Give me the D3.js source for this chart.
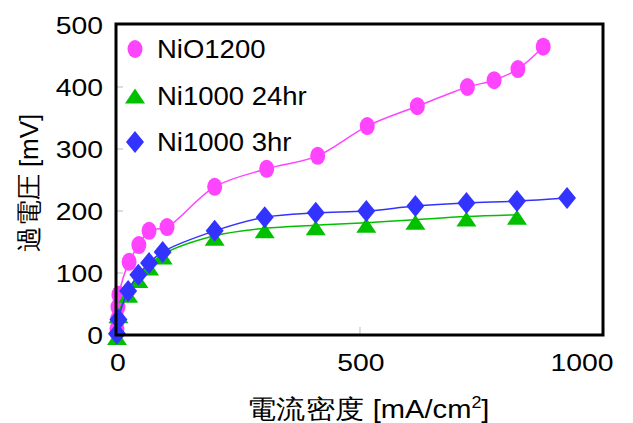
<!DOCTYPE html>
<html><head><meta charset="utf-8">
<script src="https://cdn.jsdelivr.net/npm/d3@7"></script>
<style>body{margin:0;background:#fff}text{font-family:"Liberation Sans",Arial,sans-serif}</style>
</head><body><svg id="c" width="633" height="423"></svg>
<script>
const seriesNames = ["NiO1200", "Ni1000 24hr", "Ni1000 3hr"];
const nioX = [0, 1, 2, 4, 25, 45, 66, 103, 201, 308, 413, 515, 618, 721, 776, 825, 877];
const nioY = [10, 25, 45, 65, 118, 145, 168, 174, 239, 268, 289, 337, 369, 400, 411, 429, 465];
const ni24X = [0, 3, 23, 44, 66, 94, 201, 304, 409, 513, 614, 719, 823];
const ni24Y = [0, 35, 68, 92, 112, 130, 160, 172, 177, 181, 186, 191, 194];
const ni3X = [0, 3, 23, 44, 66, 94, 201, 304, 409, 513, 614, 719, 823, 926];
const ni3Y = [2, 25, 71, 97, 116, 134, 168, 190, 197, 200, 208, 213, 216, 221];
const xTicks = [0, 500, 1000];
const yTicks = [0, 100, 200, 300, 400, 500];
const colors = ["#ff44ff", "#00c000", "#3333ff"];

const svg = d3.select("#c");
const x = d3.scaleLinear().domain([-2, 1000]).range([116, 603]);
const y = d3.scaleLinear().domain([0, 500]).range([335, 25]);

function stretchText(g, tx, ty, sx, size, anchor, str) {
  return g.append("text").attr("transform", `translate(${tx},${ty}) scale(${sx},1)`)
    .attr("text-anchor", anchor).attr("font-size", size).text(str);
}

// inner ticks
svg.append("g").selectAll("line").data(yTicks.slice(1,-1)).join("line")
  .attr("x1", x(-2)).attr("x2", x(-2)+7).attr("y1", d=>y(d)).attr("y2", d=>y(d))
  .attr("stroke", "#bbb").attr("stroke-width", 1);
svg.append("g").selectAll("line").data(xTicks.slice(1,-1)).join("line")
  .attr("x1", d=>x(d)).attr("x2", d=>x(d)).attr("y1", y(0)).attr("y2", y(0)-8)
  .attr("stroke", "#bbb").attr("stroke-width", 1);

// tick labels
const yl = svg.append("g");
yTicks.forEach(d => stretchText(yl, 103, y(d)+9, 1.18, 24, "end", d));
const xl = svg.append("g");
xTicks.forEach(d => stretchText(xl, x(d) + (d===1000 ? -21 : 1), 371, 1.18, 24, "middle", d));

// axis titles
const xt = svg.append("text").attr("transform","translate(368,418) scale(1.12,1)")
  .attr("text-anchor","middle").attr("font-size", 26);
xt.append("tspan").text("電流密度 [mA/cm");
xt.append("tspan").attr("font-size", 16).attr("dy", -10).text("2");
xt.append("tspan").attr("dy", 10).text("]");
svg.append("text").attr("transform","translate(38,183) rotate(-90)").attr("text-anchor","middle")
  .attr("font-size", 26).text("過電圧 [mV]");

const line = d3.line().x(d=>x(d[0])).y(d=>y(d[1])).curve(d3.curveCatmullRom.alpha(0.5));
const series = [
  {xs: nioX, ys: nioY, c: colors[0], m: "circle"},
  {xs: ni24X, ys: ni24Y, c: colors[1], m: "tri"},
  {xs: ni3X, ys: ni3Y, c: colors[2], m: "dia"}
];
const shapes = {
  circle: "M-7.5,0 A7.5,9 0 1,0 7.5,0 A7.5,9 0 1,0 -7.5,0Z",
  tri: "M0,-5 L10,10 L-10,10Z",
  dia: "M0,-11 L9,0 L0,11 L-9,0Z"
};
const plot = svg.append("g");
series.forEach(s => {
  const pts = s.xs.map((v,i)=>[v, s.ys[i]]);
  plot.append("path").datum(pts).attr("d", line).attr("fill","none")
    .attr("stroke", s.c).attr("stroke-width", 1.5);
  plot.append("g").selectAll("path").data(pts).join("path")
    .attr("transform", d=>`translate(${x(d[0])},${y(d[1])})`)
    .attr("d", shapes[s.m]).attr("fill", s.c);
});

// frame
svg.append("rect").attr("x", x(-2)).attr("y", y(500)-1).attr("width", x(1000)-x(-2))
  .attr("height", y(0)-y(500)+1).attr("fill","none").attr("stroke","#000").attr("stroke-width", 3);

// legend
const lg = svg.append("g");
series.forEach((s,i) => {
  const cy = 49 + i*46.5;
  lg.append("path").attr("transform", `translate(135,${cy + (s.m==="tri"?-2:0)})`).attr("d", shapes[s.m]).attr("fill", s.c);
  stretchText(lg, 157, cy + 9, 1.1, 25, "start", seriesNames[i]);
});
</script></body></html>
